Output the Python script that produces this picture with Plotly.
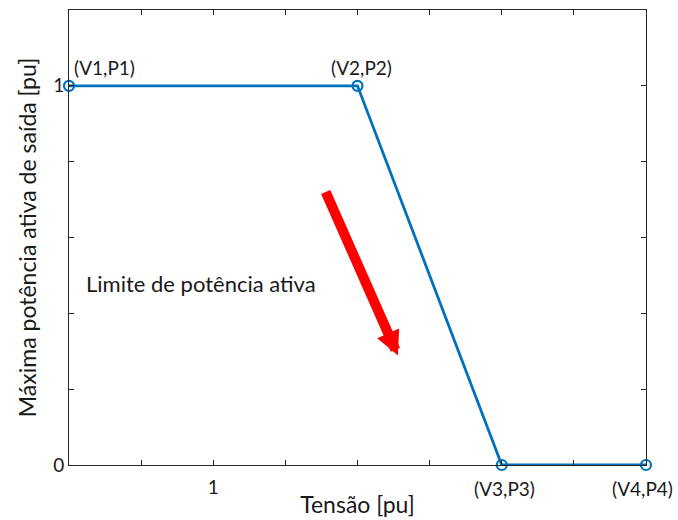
import plotly.graph_objects as go

# Data
tension = [0.9, 1.1, 1.2, 1.3]
power = [1, 1, 0, 0]
point_labels = ["(V1,P1)", "(V2,P2)", "(V3,P3)", "(V4,P4)"]
x_tickvals = [0.9, 0.95, 1.0, 1.05, 1.1, 1.15, 1.2, 1.25, 1.3]
x_ticktext = ["", "", "1", "", "", "", "", "", ""]
y_tickvals = [0, 0.2, 0.4, 0.6, 0.8, 1.0, 1.2]
y_ticktext = ["0", "", "", "", "", "1", ""]

FONT = "Lato"
TXT = "#1a1a1a"
AX = "#262626"
BLUE = "#0072BD"

fig = go.Figure()
fig.add_trace(go.Scatter(
    x=tension, y=power, mode="lines+markers",
    line=dict(color=BLUE, width=2.8),
    marker=dict(symbol="circle-open", size=10, color=BLUE, line=dict(width=2.2, color=BLUE)),
    cliponaxis=False, showlegend=False,
))

label_cfg = [
    dict(xanchor="left", yanchor="bottom", xshift=3, yshift=5),
    dict(xanchor="center", yanchor="bottom", xshift=4, yshift=5),
    dict(xanchor="center", yanchor="top", xshift=3, yshift=-10),
    dict(xanchor="center", yanchor="top", xshift=-4, yshift=-10),
]
for xv, yv, t, cfg in zip(tension, power, point_labels, label_cfg):
    fig.add_annotation(x=xv, y=yv, text=t, showarrow=False,
                       font=dict(family=FONT, size=19, color=TXT), **cfg)

fig.add_annotation(x=0.9, y=0.48, xref="x", yref="y", text="Limite de potência ativa",
                   showarrow=False, xanchor="left", yanchor="middle", xshift=15,
                   font=dict(family=FONT, size=22, color=TXT))

# arrow
fig.add_annotation(x=1.128, y=0.289, ax=1.0775, ay=0.724, xref="x", yref="y",
                   axref="x", ayref="y", text="", showarrow=True,
                   arrowhead=2, arrowsize=0.48, arrowwidth=10, arrowcolor="#ff0000",
                   standoff=0, startstandoff=0)

fig.update_xaxes(range=[0.9, 1.3], tickvals=x_tickvals, ticktext=x_ticktext,
                 ticks="inside", ticklen=5, tickcolor=AX, showline=True, linecolor=AX,
                 linewidth=1, mirror="ticks", showgrid=False, zeroline=False,
                 ticklabelstandoff=5, automargin=False,
                 tickfont=dict(family=FONT, size=19, color=TXT),
                 title=dict(text="Tensão [pu]", font=dict(family=FONT, size=23, color=TXT), standoff=0))
fig.update_yaxes(range=[0, 1.2], tickvals=y_tickvals, ticktext=y_ticktext,
                 ticks="inside", ticklen=5, tickcolor=AX, showline=True, linecolor=AX,
                 linewidth=1, mirror="ticks", showgrid=False, zeroline=False,
                 automargin=False,
                 tickfont=dict(family=FONT, size=19, color=TXT),
                 title=dict(text="Máxima potência ativa de saída [pu]",
                            font=dict(family=FONT, size=23, color=TXT), standoff=10))

fig.update_layout(width=678, height=520, margin=dict(l=69, r=32, t=10, b=55),
                  plot_bgcolor="white", paper_bgcolor="white")
fig.write_html("out.html")
